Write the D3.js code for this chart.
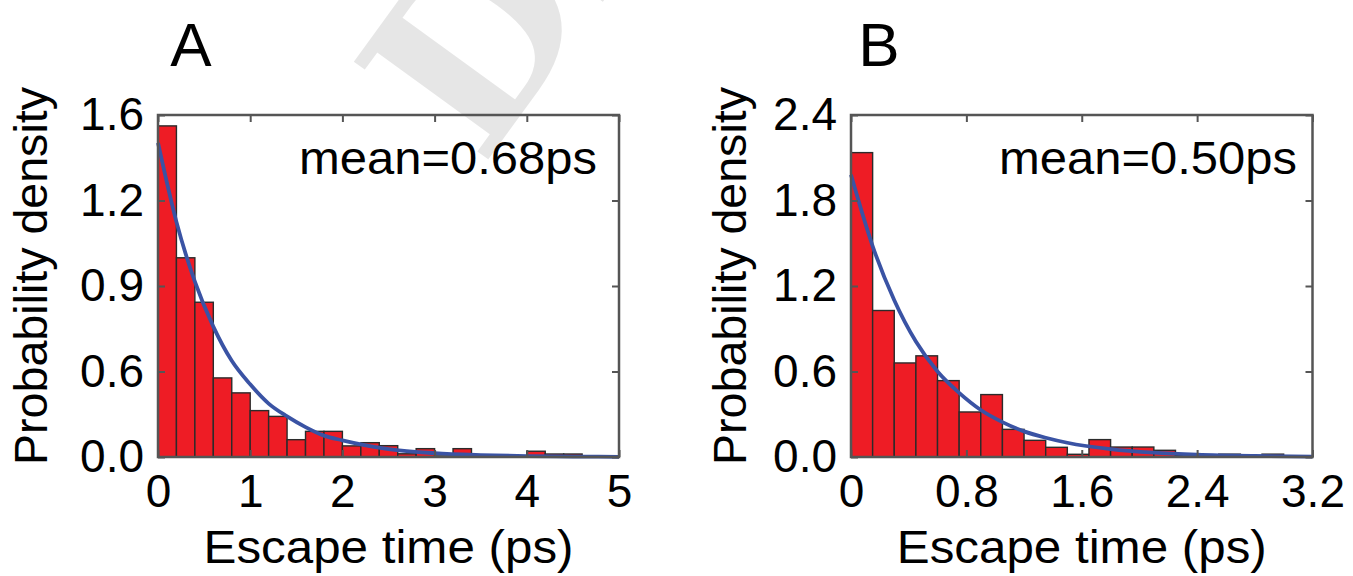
<!DOCTYPE html>
<html>
<head>
  <meta charset="utf-8">
  <script src="https://d3js.org/d3.v7.min.js"></script>
  <style>
    body { margin: 0; background: #fff; }
    svg { display: block; font-family: "Liberation Sans", Arial, Helvetica, sans-serif; }
  </style>
</head>
<body>
  <div id="chart"></div>

  <script>
// ---- data ----
// panel A: histogram bins of width 0.2 ps starting at 0
const binWidthA = 0.2;
const densityA = [1.549, 0.932, 0.724, 0.370, 0.300, 0.217, 0.190, 0.081, 0.120, 0.120,
                  0.052, 0.067, 0.053, 0.015, 0.039, 0.005, 0.039, 0, 0, 0,
                  0.027, 0.014, 0.014, 0, 0];
// fitted exponential
const fitTimeA = [0, 0.2, 0.4, 0.6, 0.8, 1.0, 1.2, 1.4, 1.6, 1.8, 2.0, 2.5, 3.0, 3.5, 4.0, 4.5, 5.0];
const fitDensA = [1.47, 1.10, 0.82, 0.61, 0.45, 0.34, 0.25, 0.19, 0.14, 0.10, 0.078, 0.037, 0.018, 0.009, 0.004, 0.002, 0.001];
const xTicksA = [0, 1, 2, 3, 4, 5];
const xTickLabelsA = ["0", "1", "2", "3", "4", "5"];
const yTicksA = [0, 0.4, 0.8, 1.2, 1.6];
const yTickLabelsA = ["0.0", "0.6", "0.9", "1.2", "1.6"];

// panel B: histogram bins of width 0.15 ps starting at 0
const binWidthB = 0.15;
const densityB = [2.136, 1.028, 0.660, 0.710, 0.536, 0.316, 0.438, 0.194, 0.117, 0.068,
                  0.019, 0.122, 0.070, 0.070, 0.047, 0.012, 0.004, 0.020, 0, 0.020, 0];
const fitTimeB = [0, 0.15, 0.3, 0.45, 0.6, 0.75, 0.9, 1.05, 1.2, 1.35, 1.5, 1.8, 2.1, 2.4, 2.8, 3.2];
const fitDensB = [1.98, 1.48, 1.10, 0.81, 0.60, 0.45, 0.33, 0.245, 0.18, 0.135, 0.10, 0.055, 0.030, 0.016, 0.007, 0.003];
const xTicksB = [0, 0.8, 1.6, 2.4, 3.2];
const xTickLabelsB = ["0", "0.8", "1.6", "2.4", "3.2"];
const yTicksB = [0, 0.6, 1.2, 1.8, 2.4];
const yTickLabelsB = ["0.0", "0.6", "1.2", "1.8", "2.4"];

const panelLabels = ["A", "B"];
const meanLabels = ["mean=0.68ps", "mean=0.50ps"];
const xTitle = "Escape time (ps)";
const yTitle = "Probability density";

// ---- drawing ----
const W = 1353, H = 576;
const svg = d3.select("#chart").append("svg")
  .attr("width", W)
  .attr("height", H);

// faint watermark in the background
svg.append("text")
  .attr("transform", "translate(482,168) rotate(-54)")
  .attr("font-family", "'DejaVu Serif', 'Liberation Serif', serif")
  .attr("font-weight", "bold")
  .attr("font-size", 228)
  .attr("fill", "#e6e6e6")
  .text("Draft");

const panels = [
  { left: 158, right: 619, xMax: 5, yMax: 1.6, binW: binWidthA, dens: densityA,
    fitT: fitTimeA, fitD: fitDensA, xt: xTicksA, xtl: xTickLabelsA, yt: yTicksA, ytl: yTickLabelsA,
    label: panelLabels[0], mean: meanLabels[0], titleX: 47, letterX: 191, meanX: 597 },
  { left: 851, right: 1312.5, xMax: 3.2, yMax: 2.4, binW: binWidthB, dens: densityB,
    fitT: fitTimeB, fitD: fitDensB, xt: xTicksB, xtl: xTickLabelsB, yt: yTicksB, ytl: yTickLabelsB,
    label: panelLabels[1], mean: meanLabels[1], titleX: 746, letterX: 879, meanX: 1297 }
];

const plotTop = 115, plotBottom = 457;
const red = "#ee1c25", blue = "#3a53a4", frame = "#555555";

panels.forEach(p => {
  const x = d3.scaleLinear().domain([0, p.xMax]).range([p.left, p.right]);
  const y = d3.scaleLinear().domain([0, p.yMax]).range([plotBottom, plotTop]);
  const g = svg.append("g");

  // bars
  const bins = p.dens.map((v, i) => ({ x0: i * p.binW, x1: (i + 1) * p.binW, v: v }))
    .filter(d => d.v > 0);
  g.selectAll("rect.bar")
    .data(bins)
    .enter()
    .append("rect")
    .attr("class", "bar")
    .attr("x", d => x(d.x0))
    .attr("y", d => y(d.v))
    .attr("width", d => x(d.x1) - x(d.x0))
    .attr("height", d => y(0) - y(d.v))
    .attr("fill", red)
    .attr("stroke", "#2b2b2b")
    .attr("stroke-width", 1.4);

  // fitted curve
  const line = d3.line()
    .x((t, i) => x(t))
    .y((t, i) => y(p.fitD[i]))
    .curve(d3.curveMonotoneX);
  g.append("path")
    .attr("d", line(p.fitT))
    .attr("fill", "none")
    .attr("stroke", blue)
    .attr("stroke-width", 3.8);

  // axes with inward ticks
  const fontSize = 46;
  const bottomAxis = d3.axisBottom(x).tickValues(p.xt)
    .tickFormat((d, i) => p.xtl[i]).tickSizeInner(-7).tickSizeOuter(0).tickPadding(17);
  const leftAxis = d3.axisLeft(y).tickValues(p.yt)
    .tickFormat((d, i) => p.ytl[i]).tickSizeInner(-7).tickSizeOuter(0).tickPadding(14);
  const topAxis = d3.axisTop(x).tickValues(p.xt).tickFormat("").tickSizeInner(-7).tickSizeOuter(0);
  const rightAxis = d3.axisRight(y).tickValues(p.yt).tickFormat("").tickSizeInner(-7).tickSizeOuter(0);

  const axes = [
    [bottomAxis, `translate(0,${plotBottom})`],
    [leftAxis, `translate(${p.left},0)`],
    [topAxis, `translate(0,${plotTop})`],
    [rightAxis, `translate(${p.right},0)`]
  ];
  axes.forEach(([ax, tr]) => {
    const a = g.append("g").attr("transform", tr).call(ax);
    a.select(".domain").remove();
    a.selectAll(".tick line").attr("stroke", frame).attr("stroke-width", 2);
    a.selectAll(".tick text")
      .attr("fill", "#000")
      .attr("font-size", fontSize)
      .attr("font-family", "'Liberation Sans', Arial, sans-serif");
  });

  // frame
  g.append("rect")
    .attr("x", p.left)
    .attr("y", plotTop)
    .attr("width", p.right - p.left)
    .attr("height", plotBottom - plotTop)
    .attr("fill", "none")
    .attr("stroke", frame)
    .attr("stroke-width", 2.5);

  // mean annotation
  g.append("text")
    .attr("x", p.meanX)
    .attr("y", 174)
    .attr("text-anchor", "end")
    .attr("font-size", 46)
    .attr("textLength", 298)
    .attr("lengthAdjust", "spacingAndGlyphs")
    .text(p.mean);

  // axis titles
  g.append("text")
    .attr("x", (p.left + p.right) / 2)
    .attr("y", 563)
    .attr("text-anchor", "middle")
    .attr("font-size", 46)
    .attr("textLength", 370)
    .attr("lengthAdjust", "spacingAndGlyphs")
    .text(xTitle);

  g.append("text")
    .attr("transform", `translate(${p.titleX},276) rotate(-90)`)
    .attr("text-anchor", "middle")
    .attr("font-size", 46)
    .attr("textLength", 378)
    .attr("lengthAdjust", "spacingAndGlyphs")
    .text(yTitle);

  // panel letter
  g.append("text")
    .attr("x", p.letterX)
    .attr("y", 66)
    .attr("text-anchor", "middle")
    .attr("font-size", 62)
    .text(p.label);
});
  </script>
</body>
</html>
